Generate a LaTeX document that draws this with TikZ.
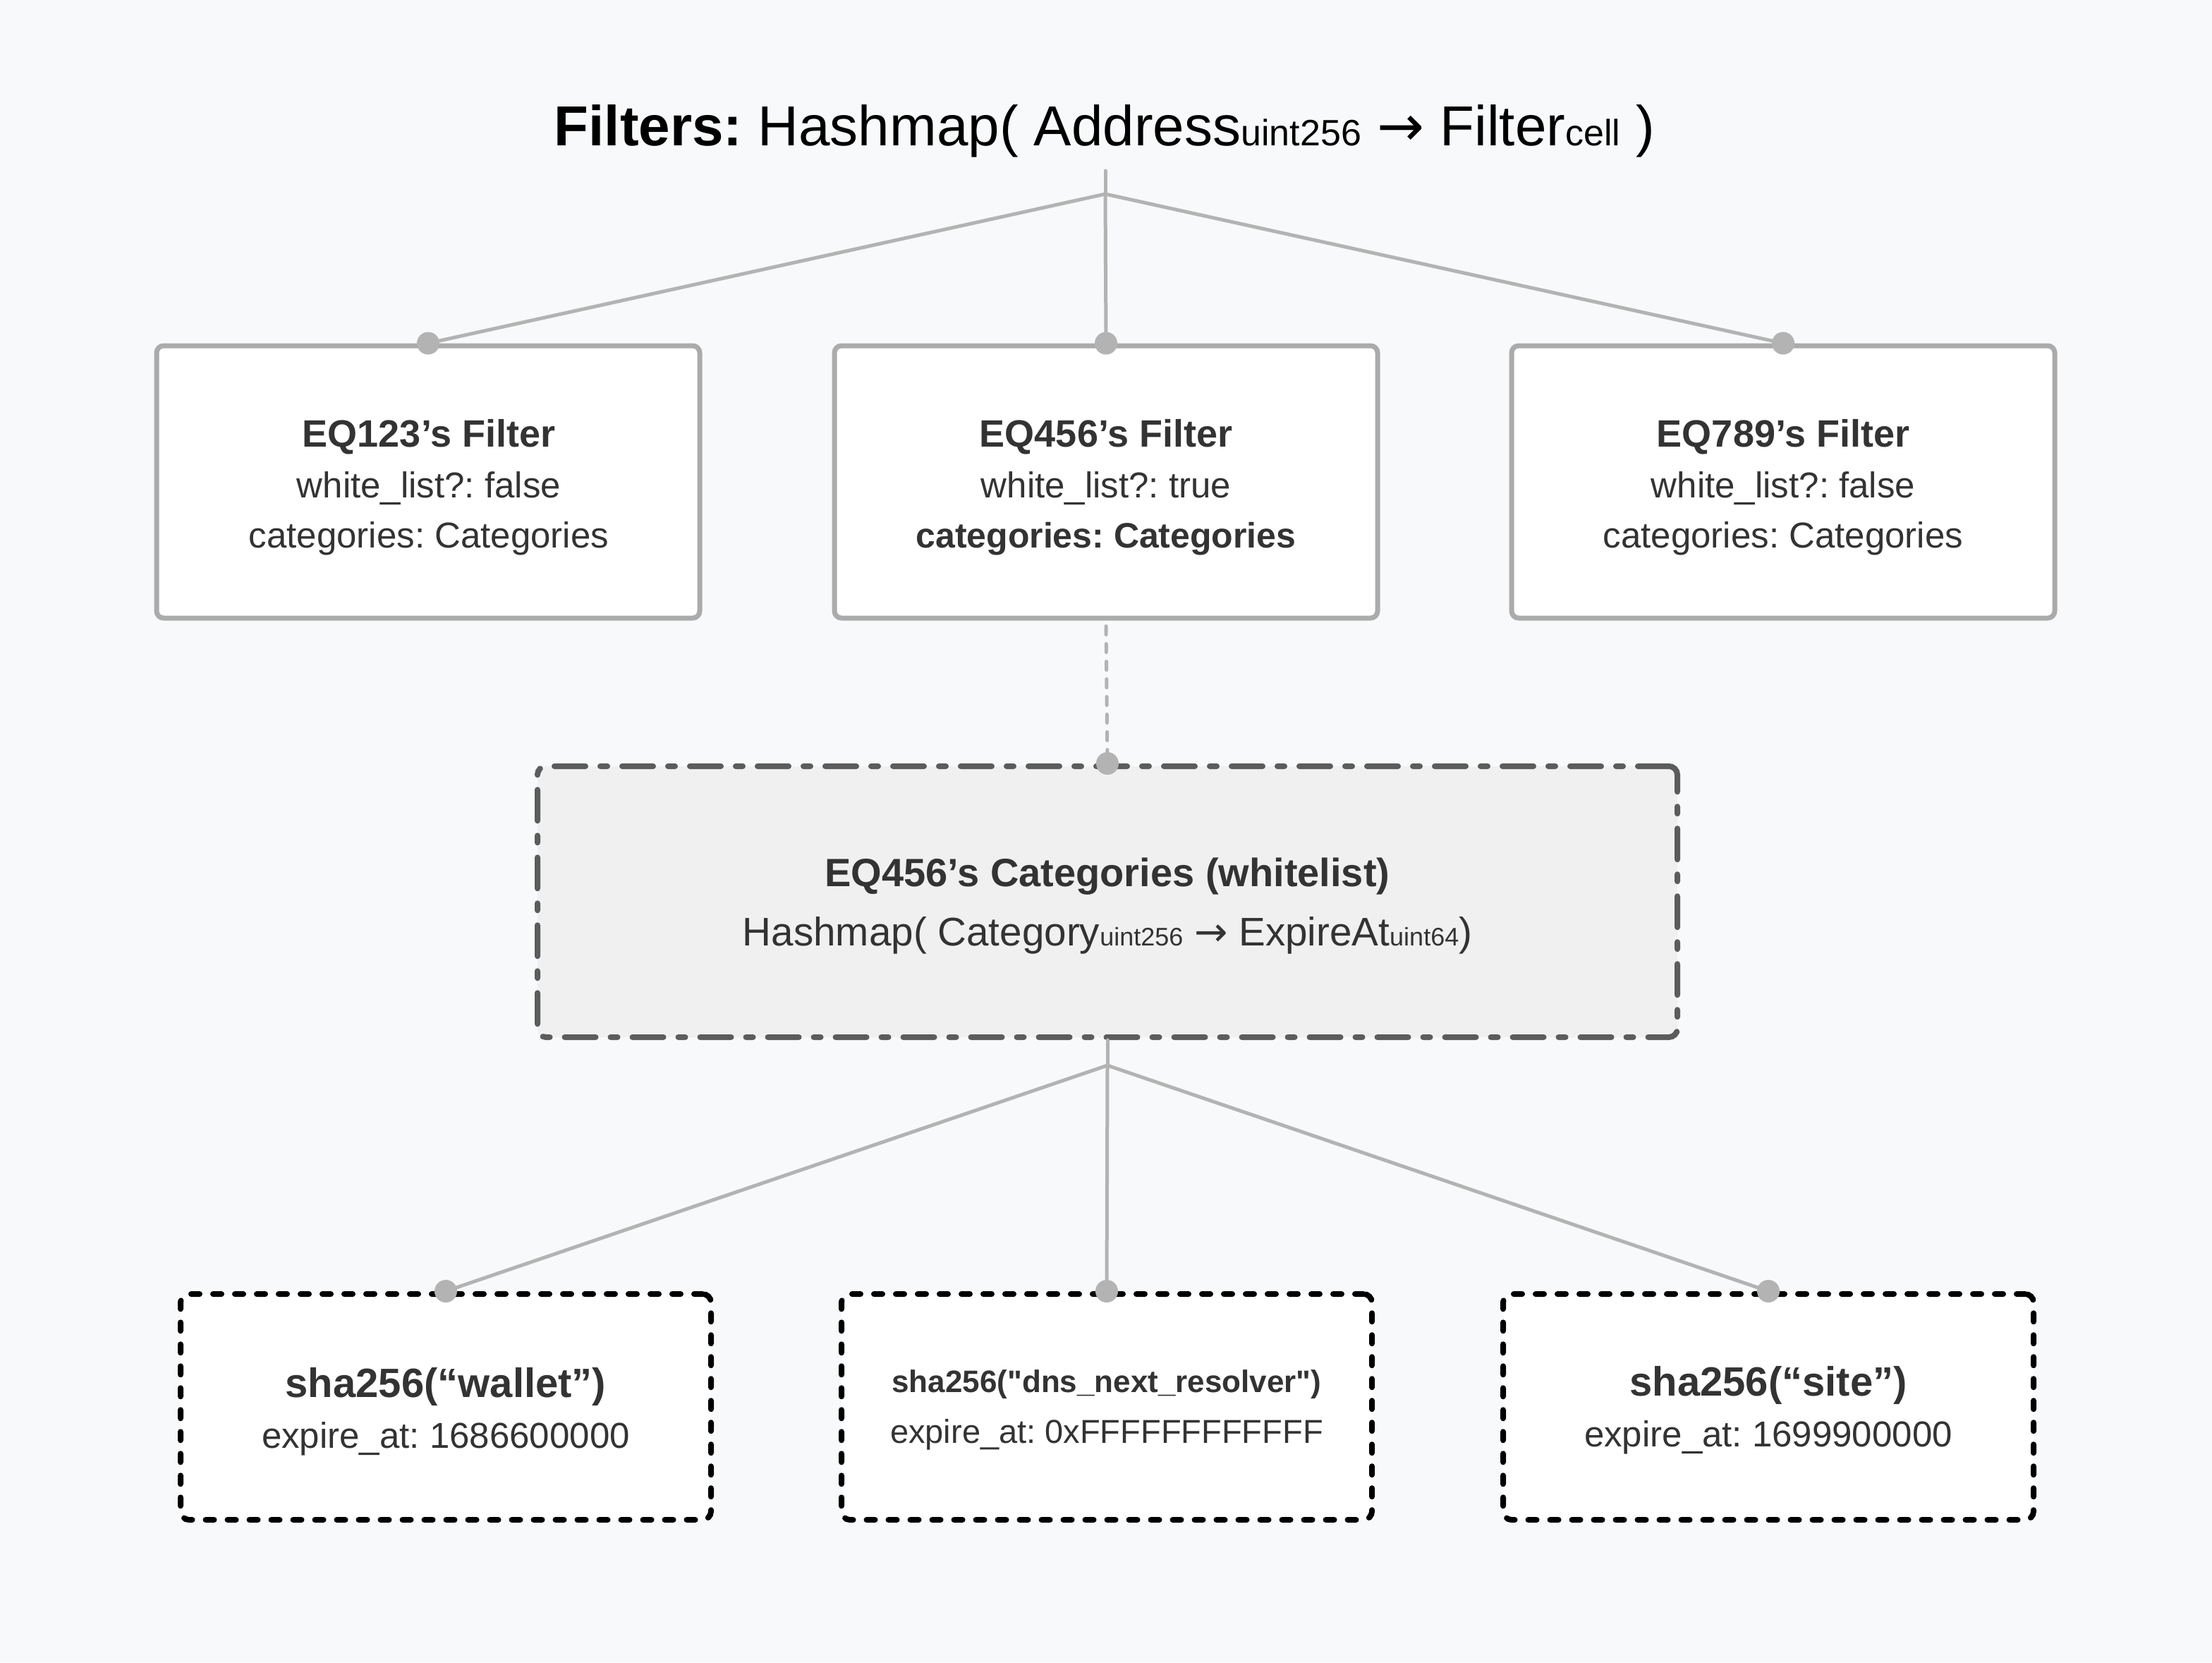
\documentclass[tikz,border=0pt]{standalone}
\usepackage{fontspec}
\setmainfont{Liberation Sans}[Ligatures=TeXOff]
\newfontfamily\arrowfont{DejaVu Sans}
\definecolor{bgcol}{HTML}{F8F9FA}
\definecolor{conncol}{HTML}{B3B3B3}
\definecolor{boxcol}{HTML}{ABABAB}
\definecolor{txtcol}{HTML}{333333}
\definecolor{midfill}{HTML}{F0F0F0}
\definecolor{midline}{HTML}{5C5C5C}
\tikzset{
  filterbox/.style={draw=boxcol, line width=3.5pt, fill=white, rounded corners=5pt,
    minimum width=385pt, minimum height=193pt, inner sep=0pt},
  catbox/.style={draw=midline, fill=midfill, line width=4pt, line cap=round,
    dash pattern=on 22pt off 10.5pt on 5pt off 10.5pt, rounded corners=6pt,
    minimum width=808pt, minimum height=192pt, inner sep=0pt},
  keybox/.style={draw=black, fill=white, line width=4pt, line cap=round,
    dash pattern=on 6pt off 9.5pt, rounded corners=6pt,
    minimum width=376pt, minimum height=160pt, inner sep=0pt},
  link/.style={draw=conncol, line width=2.5pt, line cap=round, line join=round},
  dashlink/.style={link, dash pattern=on 6pt off 6.5pt},
  knob/.style={circle, fill=conncol, inner sep=0pt, minimum size=16pt},
  head/.style={anchor=base, text=txtcol, font=\fontsize{27}{32}\selectfont\bfseries, inner sep=0pt},
  body/.style={anchor=base, text=txtcol, font=\fontsize{25.5}{30}\selectfont, inner sep=0pt},
}
\newcommand{\subtxt}[1]{{\fontsize{18}{20}\selectfont #1}}
\newcommand{\rarr}{{\arrowfont →}}
\frenchspacing
\begin{document}
\begin{tikzpicture}[x=1pt,y=-1pt]
\useasboundingbox (0,0) rectangle (1568,1178);
\fill[bgcol] (0,0) rectangle (1568,1178);

% title
\node (title) [anchor=base, inner sep=0pt, text=black, font=\fontsize{40}{48}\selectfont]
  at (783,103) {\textbf{Filters:} Hashmap( Address{\fontsize{26}{30}\selectfont uint256} \rarr{} Filter{\fontsize{26}{30}\selectfont cell} )};

% top boxes
\node (f1) [filterbox] at (303.5,341.5) {};
\node (f2) [filterbox] at (784,341.5) {};
\node (f3) [filterbox] at (1264,341.5) {};

\node (f1h) [head] at (304,316.5) {EQ123’s Filter};
\node (f1a) [body] at (304,352.5) {white\_list?: false};
\node (f1b) [body] at (304,388) {categories: Categories};

\node (f2h) [head] at (784,316.5) {EQ456’s Filter};
\node (f2a) [body] at (784,352.5) {white\_list?: true};
\node (f2b) [body, font=\fontsize{25}{30}\selectfont\bfseries] at (784,388) {categories: Categories};

\node (f3h) [head] at (1264,316.5) {EQ789’s Filter};
\node (f3a) [body] at (1264,352.5) {white\_list?: false};
\node (f3b) [body] at (1264,388) {categories: Categories};

% middle box
\node (cat) [catbox] at (785,639) {};
\node (cath) [head, font=\fontsize{28}{32}\selectfont\bfseries] at (785,628) {EQ456’s Categories (whitelist)};
\node (catb) [body, font=\fontsize{28.3}{32}\selectfont] at (785,670)
  {Hashmap( Category\subtxt{uint256} \rarr{} ExpireAt\subtxt{uint64})};

% bottom boxes
\node (k1) [keybox] at (316,997) {};
\node (k2) [keybox] at (784.5,997) {};
\node (k3) [keybox] at (1253.5,997) {};

\node (k1h) [head, font=\fontsize{29}{32}\selectfont\bfseries] at (316,990) {sha256(“wallet”)};
\node (k1b) [body] at (316,1026) {expire\_at: 1686600000};
\node (k2h) [head, font=\fontsize{22}{26}\selectfont\bfseries] at (784.5,986.5) {sha256("dns\_next\_resolver")};
\node (k2b) [body, font=\fontsize{23.5}{28}\selectfont] at (784.5,1022.5) {expire\_at: 0xFFFFFFFFFFFF};
\node (k3h) [head, font=\fontsize{29}{32}\selectfont\bfseries] at (1253.5,989) {sha256(“site”)};
\node (k3b) [body] at (1253.5,1025) {expire\_at: 1699900000};

% connectors
\coordinate (top) at (783.5,121);
\coordinate (jt) at (783.5,137.5);
\coordinate (jb) at (785,755);

\draw[link] (top) -- (jt);
\draw[link] (jt) -- (f1.north);
\draw[link] (jt) -- (f2.north);
\draw[link] (jt) -- (f3.north);
\draw[dashlink] (f2.south) ++(0,4) -- (cat.north);
\draw[link] (cat.south) -- (jb);
\draw[link] (jb) -- (k1.north);
\draw[link] (jb) -- (k2.north);
\draw[link] (jb) -- (k3.north);

\node (d1) [knob] at (f1.north) {};
\node (d2) [knob] at (f2.north) {};
\node (d3) [knob] at (f3.north) {};
\node (d4) [knob] at (cat.north) {};
\node (d5) [knob] at (k1.north) {};
\node (d6) [knob] at (k2.north) {};
\node (d7) [knob] at (k3.north) {};
\end{tikzpicture}
\end{document}
